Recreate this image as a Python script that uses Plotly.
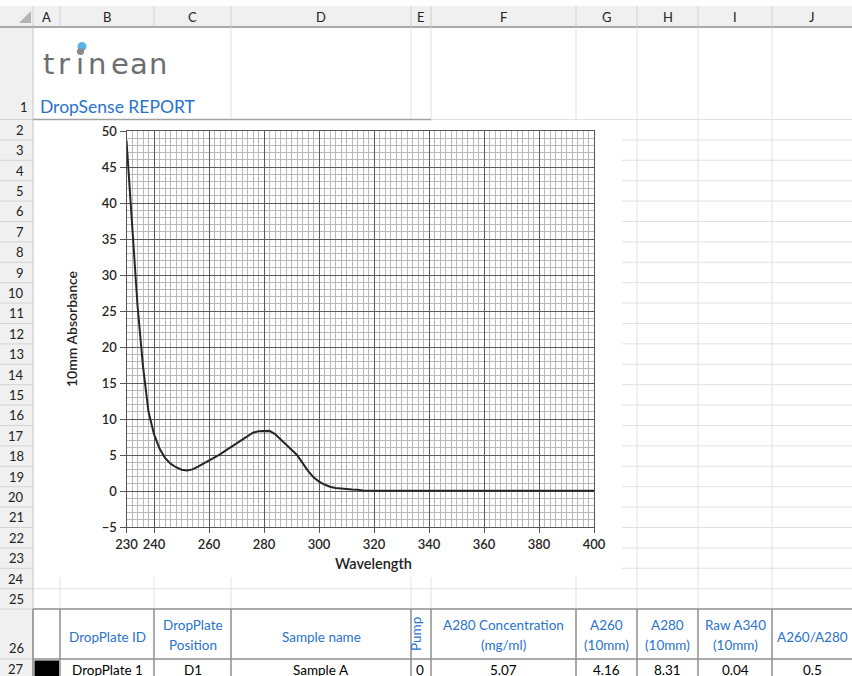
import plotly.graph_objects as go

W, H = 852, 676

# ---------------- chart data ----------------
wavelength = [230, 231, 232, 234, 236, 238, 240, 242, 244, 246, 248, 250, 252, 254,
              256, 258, 260, 262, 264, 266, 268, 270, 272, 274, 276, 278, 280, 282,
              284, 286, 288, 290, 292, 294, 296, 298, 300, 302, 304, 306, 308, 310,
              312, 314, 316, 320, 340, 360, 380, 400]
absorbance = [48.7, 43.0, 37.6, 25.8, 17.3, 11.0, 7.9, 5.9, 4.6, 3.8, 3.3, 2.95, 2.85, 3.0,
              3.4, 3.8, 4.2, 4.6, 5.1, 5.6, 6.1, 6.7, 7.2, 7.7, 8.1, 8.3, 8.35, 8.35,
              7.9, 7.2, 6.5, 5.8, 5.0, 3.9, 2.8, 1.9, 1.3, 0.9, 0.6, 0.42, 0.32, 0.26,
              0.21, 0.16, 0.06, 0.02, 0.02, 0.02, 0.02, 0.02]

x_tick_values = [230, 240, 260, 280, 300, 320, 340, 360, 380, 400]
y_tick_values = [-5, 0, 5, 10, 15, 20, 25, 30, 35, 40, 45, 50]

# ---------------- spreadsheet content ----------------
column_letters = ["A", "B", "C", "D", "E", "F", "G", "H", "I", "J"]
column_edges = [33, 60, 154, 231, 411, 431, 576, 637, 698, 772, 853]
row_edges = [27, 119.5] + [round(119.5 + 20.4 * k, 1) for k in range(1, 25)] + [659, 692]

table_headers = [["DropPlate ID"], ["DropPlate", "Position"], ["Sample name"], ["Pump"],
                 ["A280 Concentration", "(mg/ml)"], ["A260", "(10mm)"], ["A280", "(10mm)"],
                 ["Raw A340", "(10mm)"], ["A260/A280"]]
table_values = ["DropPlate 1", "D1", "Sample A", "0", "5.07", "4.16", "8.31", "0.04", "0.5"]

logo_letters = ["t", "r", "\u0131", "n", "e", "a", "n"]
logo_centers = [48.5, 64, 80, 96.5, 119.5, 138.5, 157.5]

FONT = "Lato"
BLUE = "#2a72cc"
LIGHT = "#e1e1e1"
DARK = "#8e8e8e"


def X(p):
    return p / W


def Y(p):
    return 1 - p / H


shapes = []
annotations = []


def line(x0, y0, x1, y1, color, width=1):
    shapes.append(dict(type="line", xref="paper", yref="paper", x0=X(x0), y0=Y(y0),
                       x1=X(x1), y1=Y(y1), line=dict(color=color, width=width), layer="below"))


def rect(x0, y0, x1, y1, fill):
    shapes.append(dict(type="rect", xref="paper", yref="paper", x0=X(x0), y0=Y(y0),
                       x1=X(x1), y1=Y(y1), fillcolor=fill, line=dict(width=0), layer="below"))


def circle(cx, cy, r, fill):
    shapes.append(dict(type="circle", xref="paper", yref="paper", x0=X(cx - r), y0=Y(cy + r),
                       x1=X(cx + r), y1=Y(cy - r), fillcolor=fill, line=dict(width=0),
                       layer="above"))


def text(x, y, s, size=13.5, color="#000000", xanchor="center", yanchor="middle", angle=0,
         family=FONT, weight="normal"):
    annotations.append(dict(x=X(x), y=Y(y), xref="paper", yref="paper", text=s,
                            showarrow=False, xanchor=xanchor, yanchor=yanchor, textangle=angle,
                            font=dict(family=family, size=size, color=color, weight=weight)))


# headers backgrounds
rect(0, 6, 853, 27, "#f0f0f0")
rect(0, 27, 33, 692, "#f0f0f0")
for e in column_edges[:-1]:
    line(e, 6, e, 27, "#d0d0d0")
line(0, 27, 853, 27, "#a9a9a9", 2)
for e in row_edges[1:]:
    line(0, e, 33, e, "#d3d3d3")
line(33, 27, 33, 692, "#c4c4c4")
shapes.append(dict(type="path", xref="paper", yref="paper",
                   path="M %f,%f L %f,%f L %f,%f Z" % (X(19), Y(23), X(31), Y(23), X(31), Y(11)),
                   fillcolor="#b4b4b4", line=dict(width=0), layer="below"))

# chart object white area
rect(34, 120.5, 622, 577, "#ffffff")

# row 1 gridlines
for e in column_edges[3:10]:
    line(e, 27, e, 119.5, LIGHT)
line(431, 119.5, 853, 119.5, LIGHT)
line(33, 119.5, 431, 119.5, "#a2a2a2", 1.5)

# rows 2-25
for e in row_edges[2:25]:
    xs = 622 if e < 577 else 33
    line(xs, e, 853, e, LIGHT)
for e in column_edges[1:10]:
    if e > 622:
        line(e, 119.5, e, 609.1, LIGHT)
    else:
        line(e, 577, e, 609.1, LIGHT)

# table borders
line(33, row_edges[25], 853, row_edges[25], DARK, 1.5)
line(33, row_edges[26], 853, row_edges[26], DARK, 1.5)
for e in column_edges[:10]:
    line(e, row_edges[25], e, 692, DARK, 1.5)
rect(34.5, 660.5, 59, 692, "#000000")

# column letters
for i, c in enumerate(column_letters):
    text((column_edges[i] + column_edges[i + 1]) / 2 if i < 9 else 812, 16.5, c, 13, "#222222")

# row numbers
for r in range(1, 28):
    top, bot = row_edges[r - 1], row_edges[r]
    if r == 1:
        text(30, bot - 3, str(r), 13, "#222222", xanchor="right", yanchor="bottom")
    elif r == 26:
        text(25.5, bot - 1, str(r), 13, "#222222", xanchor="right", yanchor="bottom")
    elif r == 27:
        text(25.5, 669, str(r), 13, "#222222", xanchor="right")
    else:
        text(25.5, (top + bot) / 2, str(r), 13, "#222222", xanchor="right")

# logo
for ch, cx in zip(logo_letters, logo_centers):
    text(cx, 83, ch, 29, "#6c6e72", yanchor="bottom", family="DejaVu Sans")
circle(82, 46.5, 4.5, "#5ab4e6")
circle(80.5, 51.5, 3.6, "#8a8c8f")
text(38, 107, "DropSense REPORT", 17.5, BLUE, xanchor="left")

# table text
for i, hdr in enumerate(table_headers):
    cx = (column_edges[i + 1] + column_edges[i + 2]) / 2 if i < 8 else 812
    if hdr[0] == "Pump":
        text(416, 634, hdr[0], 13.5, BLUE, angle=-90)
    elif len(hdr) == 1:
        text(cx, 636.5, hdr[0], 13.5, BLUE)
    else:
        text(cx, 624.5, hdr[0], 13.5, BLUE)
        text(cx, 645, hdr[1], 13.5, BLUE)
for i, v in enumerate(table_values):
    cx = (column_edges[i + 1] + column_edges[i + 2]) / 2 if i < 8 else 812
    if i == 3:
        cx = 420
    text(cx, 670, v, 13.5, "#000000")

# x axis title (placed off-centre as in the reference)
text(373, 563, "Wavelength", 14.5, "#222222", weight=600)

# ---------------- chart ----------------
fig = go.Figure()
fig.add_trace(go.Scatter(x=wavelength, y=absorbance, mode="lines",
                         line=dict(color="#262626", width=2), hoverinfo="x+y",
                         showlegend=False))

fig.update_layout(
    width=W, height=H,
    margin=dict(l=0, r=0, t=0, b=0),
    paper_bgcolor="#ffffff",
    plot_bgcolor="#ffffff",
    shapes=shapes,
    annotations=annotations,
    xaxis=dict(
        domain=[126.5 / W, 594 / W], range=[230, 400],
        tickvals=x_tick_values, ticks="outside", ticklen=5, tickcolor="#555555",
        showgrid=True, gridcolor="#5a5a5a", gridwidth=1,
        minor=dict(tick0=230, dtick=2, showgrid=True, gridcolor="#b9b9b9", gridwidth=1, ticks=""),
        showline=True, linecolor="#555555", mirror=True, zeroline=False,
        tickfont=dict(family=FONT, size=13, color="#262626", weight=600),
        automargin=False,
    ),
    yaxis=dict(
        domain=[1 - 527 / H, 1 - 131 / H], range=[-5, 50],
        tickvals=y_tick_values, ticks="outside", ticklen=6, tickcolor="#555555",
        showgrid=True, gridcolor="#5a5a5a", gridwidth=1,
        minor=dict(tick0=0, dtick=1, showgrid=True, gridcolor="#b9b9b9", gridwidth=1, ticks=""),
        showline=True, linecolor="#555555", mirror=True, zeroline=False,
        tickfont=dict(family=FONT, size=13, color="#262626", weight=600),
        title=dict(text="10mm Absorbance", standoff=20,
                   font=dict(family=FONT, size=14, color="#222222", weight=600)),
        automargin=False,
    ),
)

fig.write_html("out.html", config={"displayModeBar": False},
               post_script="document.body.style.margin='0px';document.body.style.overflow='hidden';")
